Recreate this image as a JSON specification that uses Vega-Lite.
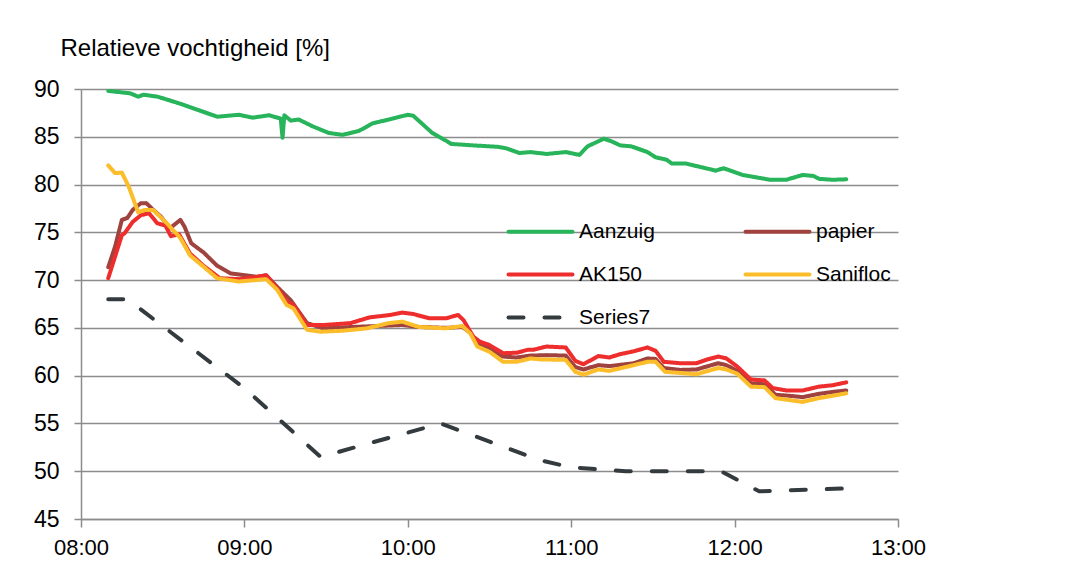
{
  "$schema": "https://vega.github.io/schema/vega-lite/v6.json",
  "autosize": {"type": "none"},
  "padding": {"left": 81, "top": 89, "right": 181, "bottom": 54},
  "width": 817,
  "height": 430,
  "background": "white",
  "config": {
    "view": {"stroke": null},
    "font": "Liberation Sans",
    "axis": {"labelFont": "Liberation Sans", "labelColor": "#000000", "titleFont": "Liberation Sans", "titleColor": "#000000", "titleFontWeight": "normal"},
    "legend": {"labelFont": "Liberation Sans", "labelColor": "#000000"}
  },
  "data": {"values": [
    {"s":"Aanzuig","t":"2020-01-01T08:10:00","v":89.8},
    {"s":"Aanzuig","t":"2020-01-01T08:18:00","v":89.55},
    {"s":"Aanzuig","t":"2020-01-01T08:21:00","v":89.2},
    {"s":"Aanzuig","t":"2020-01-01T08:23:00","v":89.4},
    {"s":"Aanzuig","t":"2020-01-01T08:28:00","v":89.2},
    {"s":"Aanzuig","t":"2020-01-01T08:36:00","v":88.5},
    {"s":"Aanzuig","t":"2020-01-01T08:42:00","v":87.9},
    {"s":"Aanzuig","t":"2020-01-01T08:50:00","v":87.1},
    {"s":"Aanzuig","t":"2020-01-01T08:58:00","v":87.3},
    {"s":"Aanzuig","t":"2020-01-01T09:03:00","v":87.0},
    {"s":"Aanzuig","t":"2020-01-01T09:09:00","v":87.25},
    {"s":"Aanzuig","t":"2020-01-01T09:13:20","v":86.9},
    {"s":"Aanzuig","t":"2020-01-01T09:14:00","v":84.9},
    {"s":"Aanzuig","t":"2020-01-01T09:14:40","v":87.25},
    {"s":"Aanzuig","t":"2020-01-01T09:17:00","v":86.7},
    {"s":"Aanzuig","t":"2020-01-01T09:20:00","v":86.8},
    {"s":"Aanzuig","t":"2020-01-01T09:25:00","v":86.1},
    {"s":"Aanzuig","t":"2020-01-01T09:31:00","v":85.4},
    {"s":"Aanzuig","t":"2020-01-01T09:36:00","v":85.2},
    {"s":"Aanzuig","t":"2020-01-01T09:42:00","v":85.6},
    {"s":"Aanzuig","t":"2020-01-01T09:47:00","v":86.4},
    {"s":"Aanzuig","t":"2020-01-01T09:53:00","v":86.8},
    {"s":"Aanzuig","t":"2020-01-01T10:00:00","v":87.3},
    {"s":"Aanzuig","t":"2020-01-01T10:02:00","v":87.2},
    {"s":"Aanzuig","t":"2020-01-01T10:09:00","v":85.4},
    {"s":"Aanzuig","t":"2020-01-01T10:14:00","v":84.6},
    {"s":"Aanzuig","t":"2020-01-01T10:16:00","v":84.25},
    {"s":"Aanzuig","t":"2020-01-01T10:24:00","v":84.1},
    {"s":"Aanzuig","t":"2020-01-01T10:33:00","v":83.95},
    {"s":"Aanzuig","t":"2020-01-01T10:36:00","v":83.8},
    {"s":"Aanzuig","t":"2020-01-01T10:41:00","v":83.3},
    {"s":"Aanzuig","t":"2020-01-01T10:45:00","v":83.4},
    {"s":"Aanzuig","t":"2020-01-01T10:51:00","v":83.2},
    {"s":"Aanzuig","t":"2020-01-01T10:58:00","v":83.4},
    {"s":"Aanzuig","t":"2020-01-01T11:03:00","v":83.1},
    {"s":"Aanzuig","t":"2020-01-01T11:06:00","v":84.0},
    {"s":"Aanzuig","t":"2020-01-01T11:12:00","v":84.8},
    {"s":"Aanzuig","t":"2020-01-01T11:15:00","v":84.5},
    {"s":"Aanzuig","t":"2020-01-01T11:18:00","v":84.1},
    {"s":"Aanzuig","t":"2020-01-01T11:22:00","v":84.0},
    {"s":"Aanzuig","t":"2020-01-01T11:28:00","v":83.4},
    {"s":"Aanzuig","t":"2020-01-01T11:31:00","v":82.85},
    {"s":"Aanzuig","t":"2020-01-01T11:35:00","v":82.6},
    {"s":"Aanzuig","t":"2020-01-01T11:37:00","v":82.2},
    {"s":"Aanzuig","t":"2020-01-01T11:42:00","v":82.2},
    {"s":"Aanzuig","t":"2020-01-01T11:51:00","v":81.6},
    {"s":"Aanzuig","t":"2020-01-01T11:53:00","v":81.45},
    {"s":"Aanzuig","t":"2020-01-01T11:56:00","v":81.7},
    {"s":"Aanzuig","t":"2020-01-01T12:03:00","v":81.0},
    {"s":"Aanzuig","t":"2020-01-01T12:13:00","v":80.5},
    {"s":"Aanzuig","t":"2020-01-01T12:19:00","v":80.5},
    {"s":"Aanzuig","t":"2020-01-01T12:25:00","v":81.0},
    {"s":"Aanzuig","t":"2020-01-01T12:29:00","v":80.9},
    {"s":"Aanzuig","t":"2020-01-01T12:31:00","v":80.6},
    {"s":"Aanzuig","t":"2020-01-01T12:36:00","v":80.5},
    {"s":"Aanzuig","t":"2020-01-01T12:41:00","v":80.55},

    {"s":"papier","t":"2020-01-01T08:10:00","v":71.35},
    {"s":"papier","t":"2020-01-01T08:12:30","v":73.5},
    {"s":"papier","t":"2020-01-01T08:15:00","v":76.3},
    {"s":"papier","t":"2020-01-01T08:17:00","v":76.5},
    {"s":"papier","t":"2020-01-01T08:19:00","v":77.35},
    {"s":"papier","t":"2020-01-01T08:22:00","v":78.05},
    {"s":"papier","t":"2020-01-01T08:24:00","v":78.05},
    {"s":"papier","t":"2020-01-01T08:26:00","v":77.5},
    {"s":"papier","t":"2020-01-01T08:29:30","v":76.6},
    {"s":"papier","t":"2020-01-01T08:32:30","v":75.4},
    {"s":"papier","t":"2020-01-01T08:36:30","v":76.3},
    {"s":"papier","t":"2020-01-01T08:38:00","v":75.6},
    {"s":"papier","t":"2020-01-01T08:40:30","v":73.85},
    {"s":"papier","t":"2020-01-01T08:45:00","v":72.9},
    {"s":"papier","t":"2020-01-01T08:50:00","v":71.5},
    {"s":"papier","t":"2020-01-01T08:55:00","v":70.7},
    {"s":"papier","t":"2020-01-01T09:04:30","v":70.35},
    {"s":"papier","t":"2020-01-01T09:08:00","v":70.5},
    {"s":"papier","t":"2020-01-01T09:12:00","v":69.3},
    {"s":"papier","t":"2020-01-01T09:17:00","v":67.9},
    {"s":"papier","t":"2020-01-01T09:23:00","v":65.5},
    {"s":"papier","t":"2020-01-01T09:29:00","v":64.95},
    {"s":"papier","t":"2020-01-01T09:40:00","v":65.1},
    {"s":"papier","t":"2020-01-01T09:58:00","v":65.3},
    {"s":"papier","t":"2020-01-01T10:04:00","v":65.1},
    {"s":"papier","t":"2020-01-01T10:14:00","v":65.0},
    {"s":"papier","t":"2020-01-01T10:20:00","v":65.1},
    {"s":"papier","t":"2020-01-01T10:23:00","v":64.5},
    {"s":"papier","t":"2020-01-01T10:26:00","v":63.2},
    {"s":"papier","t":"2020-01-01T10:30:00","v":62.85},
    {"s":"papier","t":"2020-01-01T10:35:00","v":62.0},
    {"s":"papier","t":"2020-01-01T10:40:00","v":61.9},
    {"s":"papier","t":"2020-01-01T10:45:00","v":62.1},
    {"s":"papier","t":"2020-01-01T10:51:00","v":62.15},
    {"s":"papier","t":"2020-01-01T10:58:00","v":62.1},
    {"s":"papier","t":"2020-01-01T11:01:30","v":60.9},
    {"s":"papier","t":"2020-01-01T11:04:30","v":60.65},
    {"s":"papier","t":"2020-01-01T11:10:00","v":61.1},
    {"s":"papier","t":"2020-01-01T11:14:00","v":61.0},
    {"s":"papier","t":"2020-01-01T11:23:00","v":61.3},
    {"s":"papier","t":"2020-01-01T11:28:00","v":61.8},
    {"s":"papier","t":"2020-01-01T11:31:00","v":61.75},
    {"s":"papier","t":"2020-01-01T11:34:00","v":60.8},
    {"s":"papier","t":"2020-01-01T11:40:00","v":60.6},
    {"s":"papier","t":"2020-01-01T11:46:00","v":60.65},
    {"s":"papier","t":"2020-01-01T11:54:00","v":61.3},
    {"s":"papier","t":"2020-01-01T11:57:00","v":61.1},
    {"s":"papier","t":"2020-01-01T12:01:00","v":60.5},
    {"s":"papier","t":"2020-01-01T12:06:00","v":59.2},
    {"s":"papier","t":"2020-01-01T12:11:00","v":59.1},
    {"s":"papier","t":"2020-01-01T12:15:00","v":58.0},
    {"s":"papier","t":"2020-01-01T12:20:00","v":57.9},
    {"s":"papier","t":"2020-01-01T12:25:00","v":57.75},
    {"s":"papier","t":"2020-01-01T12:31:00","v":58.1},
    {"s":"papier","t":"2020-01-01T12:36:00","v":58.3},
    {"s":"papier","t":"2020-01-01T12:41:00","v":58.45},

    {"s":"AK150","t":"2020-01-01T08:10:00","v":70.2},
    {"s":"AK150","t":"2020-01-01T08:12:30","v":72.45},
    {"s":"AK150","t":"2020-01-01T08:15:00","v":74.7},
    {"s":"AK150","t":"2020-01-01T08:16:00","v":74.9},
    {"s":"AK150","t":"2020-01-01T08:19:00","v":76.1},
    {"s":"AK150","t":"2020-01-01T08:22:00","v":76.8},
    {"s":"AK150","t":"2020-01-01T08:25:00","v":77.0},
    {"s":"AK150","t":"2020-01-01T08:28:00","v":75.95},
    {"s":"AK150","t":"2020-01-01T08:31:00","v":75.7},
    {"s":"AK150","t":"2020-01-01T08:33:00","v":74.6},
    {"s":"AK150","t":"2020-01-01T08:36:00","v":74.8},
    {"s":"AK150","t":"2020-01-01T08:40:00","v":72.8},
    {"s":"AK150","t":"2020-01-01T08:45:00","v":71.5},
    {"s":"AK150","t":"2020-01-01T08:51:00","v":70.2},
    {"s":"AK150","t":"2020-01-01T08:58:00","v":70.1},
    {"s":"AK150","t":"2020-01-01T09:04:00","v":70.3},
    {"s":"AK150","t":"2020-01-01T09:08:00","v":70.5},
    {"s":"AK150","t":"2020-01-01T09:12:00","v":69.15},
    {"s":"AK150","t":"2020-01-01T09:15:30","v":67.75},
    {"s":"AK150","t":"2020-01-01T09:18:00","v":67.4},
    {"s":"AK150","t":"2020-01-01T09:23:00","v":65.3},
    {"s":"AK150","t":"2020-01-01T09:29:00","v":65.3},
    {"s":"AK150","t":"2020-01-01T09:39:00","v":65.5},
    {"s":"AK150","t":"2020-01-01T09:46:00","v":66.1},
    {"s":"AK150","t":"2020-01-01T09:53:30","v":66.35},
    {"s":"AK150","t":"2020-01-01T09:58:00","v":66.6},
    {"s":"AK150","t":"2020-01-01T10:02:00","v":66.45},
    {"s":"AK150","t":"2020-01-01T10:08:00","v":66.0},
    {"s":"AK150","t":"2020-01-01T10:14:00","v":66.0},
    {"s":"AK150","t":"2020-01-01T10:18:30","v":66.35},
    {"s":"AK150","t":"2020-01-01T10:20:30","v":65.8},
    {"s":"AK150","t":"2020-01-01T10:24:00","v":64.1},
    {"s":"AK150","t":"2020-01-01T10:26:30","v":63.55},
    {"s":"AK150","t":"2020-01-01T10:30:00","v":63.2},
    {"s":"AK150","t":"2020-01-01T10:35:00","v":62.35},
    {"s":"AK150","t":"2020-01-01T10:40:00","v":62.4},
    {"s":"AK150","t":"2020-01-01T10:44:00","v":62.7},
    {"s":"AK150","t":"2020-01-01T10:46:00","v":62.7},
    {"s":"AK150","t":"2020-01-01T10:51:00","v":63.05},
    {"s":"AK150","t":"2020-01-01T10:58:00","v":62.95},
    {"s":"AK150","t":"2020-01-01T11:01:30","v":61.55},
    {"s":"AK150","t":"2020-01-01T11:04:30","v":61.2},
    {"s":"AK150","t":"2020-01-01T11:10:00","v":62.05},
    {"s":"AK150","t":"2020-01-01T11:14:00","v":61.9},
    {"s":"AK150","t":"2020-01-01T11:18:00","v":62.25},
    {"s":"AK150","t":"2020-01-01T11:23:00","v":62.55},
    {"s":"AK150","t":"2020-01-01T11:28:00","v":62.95},
    {"s":"AK150","t":"2020-01-01T11:31:00","v":62.6},
    {"s":"AK150","t":"2020-01-01T11:34:00","v":61.45},
    {"s":"AK150","t":"2020-01-01T11:40:00","v":61.3},
    {"s":"AK150","t":"2020-01-01T11:46:00","v":61.3},
    {"s":"AK150","t":"2020-01-01T11:50:00","v":61.7},
    {"s":"AK150","t":"2020-01-01T11:54:00","v":62.0},
    {"s":"AK150","t":"2020-01-01T11:57:00","v":61.8},
    {"s":"AK150","t":"2020-01-01T12:01:00","v":60.95},
    {"s":"AK150","t":"2020-01-01T12:06:00","v":59.6},
    {"s":"AK150","t":"2020-01-01T12:11:00","v":59.5},
    {"s":"AK150","t":"2020-01-01T12:14:00","v":58.7},
    {"s":"AK150","t":"2020-01-01T12:19:00","v":58.45},
    {"s":"AK150","t":"2020-01-01T12:25:00","v":58.45},
    {"s":"AK150","t":"2020-01-01T12:31:00","v":58.85},
    {"s":"AK150","t":"2020-01-01T12:36:00","v":59.0},
    {"s":"AK150","t":"2020-01-01T12:41:00","v":59.3},

    {"s":"Sanifloc","t":"2020-01-01T08:10:00","v":82.0},
    {"s":"Sanifloc","t":"2020-01-01T08:12:30","v":81.2},
    {"s":"Sanifloc","t":"2020-01-01T08:15:00","v":81.25},
    {"s":"Sanifloc","t":"2020-01-01T08:17:30","v":79.8},
    {"s":"Sanifloc","t":"2020-01-01T08:21:00","v":77.1},
    {"s":"Sanifloc","t":"2020-01-01T08:23:30","v":77.35},
    {"s":"Sanifloc","t":"2020-01-01T08:26:30","v":77.35},
    {"s":"Sanifloc","t":"2020-01-01T08:31:30","v":75.95},
    {"s":"Sanifloc","t":"2020-01-01T08:36:30","v":74.4},
    {"s":"Sanifloc","t":"2020-01-01T08:40:00","v":72.6},
    {"s":"Sanifloc","t":"2020-01-01T08:45:00","v":71.4},
    {"s":"Sanifloc","t":"2020-01-01T08:50:00","v":70.2},
    {"s":"Sanifloc","t":"2020-01-01T08:58:00","v":69.85},
    {"s":"Sanifloc","t":"2020-01-01T09:08:00","v":70.1},
    {"s":"Sanifloc","t":"2020-01-01T09:12:00","v":69.0},
    {"s":"Sanifloc","t":"2020-01-01T09:15:30","v":67.4},
    {"s":"Sanifloc","t":"2020-01-01T09:18:00","v":67.05},
    {"s":"Sanifloc","t":"2020-01-01T09:23:00","v":64.8},
    {"s":"Sanifloc","t":"2020-01-01T09:28:00","v":64.6},
    {"s":"Sanifloc","t":"2020-01-01T09:36:00","v":64.7},
    {"s":"Sanifloc","t":"2020-01-01T09:45:00","v":64.95},
    {"s":"Sanifloc","t":"2020-01-01T09:53:00","v":65.5},
    {"s":"Sanifloc","t":"2020-01-01T09:58:00","v":65.65},
    {"s":"Sanifloc","t":"2020-01-01T10:04:00","v":65.1},
    {"s":"Sanifloc","t":"2020-01-01T10:14:00","v":64.95},
    {"s":"Sanifloc","t":"2020-01-01T10:20:00","v":65.2},
    {"s":"Sanifloc","t":"2020-01-01T10:23:00","v":64.4},
    {"s":"Sanifloc","t":"2020-01-01T10:25:30","v":63.05},
    {"s":"Sanifloc","t":"2020-01-01T10:30:00","v":62.5},
    {"s":"Sanifloc","t":"2020-01-01T10:35:00","v":61.45},
    {"s":"Sanifloc","t":"2020-01-01T10:40:00","v":61.45},
    {"s":"Sanifloc","t":"2020-01-01T10:45:00","v":61.8},
    {"s":"Sanifloc","t":"2020-01-01T10:49:00","v":61.7},
    {"s":"Sanifloc","t":"2020-01-01T10:58:00","v":61.65},
    {"s":"Sanifloc","t":"2020-01-01T11:01:30","v":60.4},
    {"s":"Sanifloc","t":"2020-01-01T11:04:30","v":60.1},
    {"s":"Sanifloc","t":"2020-01-01T11:10:00","v":60.65},
    {"s":"Sanifloc","t":"2020-01-01T11:14:00","v":60.5},
    {"s":"Sanifloc","t":"2020-01-01T11:23:00","v":61.1},
    {"s":"Sanifloc","t":"2020-01-01T11:28:00","v":61.45},
    {"s":"Sanifloc","t":"2020-01-01T11:31:00","v":61.45},
    {"s":"Sanifloc","t":"2020-01-01T11:34:30","v":60.4},
    {"s":"Sanifloc","t":"2020-01-01T11:46:00","v":60.15},
    {"s":"Sanifloc","t":"2020-01-01T11:54:00","v":60.8},
    {"s":"Sanifloc","t":"2020-01-01T11:57:00","v":60.65},
    {"s":"Sanifloc","t":"2020-01-01T12:01:00","v":60.2},
    {"s":"Sanifloc","t":"2020-01-01T12:06:00","v":58.85},
    {"s":"Sanifloc","t":"2020-01-01T12:11:00","v":58.8},
    {"s":"Sanifloc","t":"2020-01-01T12:15:00","v":57.65},
    {"s":"Sanifloc","t":"2020-01-01T12:25:00","v":57.25},
    {"s":"Sanifloc","t":"2020-01-01T12:31:00","v":57.65},
    {"s":"Sanifloc","t":"2020-01-01T12:41:00","v":58.15},

    {"s":"Series7","t":"2020-01-01T08:10:00","v":68.0},
    {"s":"Series7","t":"2020-01-01T08:17:00","v":68.0},
    {"s":"Series7","t":"2020-01-01T09:00:00","v":58.7},
    {"s":"Series7","t":"2020-01-01T09:28:00","v":51.5},
    {"s":"Series7","t":"2020-01-01T10:12:00","v":55.0},
    {"s":"Series7","t":"2020-01-01T10:48:00","v":51.2},
    {"s":"Series7","t":"2020-01-01T11:00:00","v":50.4},
    {"s":"Series7","t":"2020-01-01T11:20:00","v":50.0},
    {"s":"Series7","t":"2020-01-01T11:55:00","v":50.0},
    {"s":"Series7","t":"2020-01-01T12:09:00","v":47.9},
    {"s":"Series7","t":"2020-01-01T12:41:00","v":48.2}
  ]},
  "mark": {"type": "line", "strokeWidth": 4, "strokeCap": "round", "strokeJoin": "round"},
  "encoding": {
    "x": {
      "field": "t", "type": "temporal",
      "scale": {"domain": [
        {"year": 2020, "month": 1, "date": 1, "hours": 8, "minutes": 0},
        {"year": 2020, "month": 1, "date": 1, "hours": 13, "minutes": 0}
      ]},
      "axis": {
        "title": null, "format": "%H:%M", "grid": false, "domain": true,
        "values": [
          {"year": 2020, "month": 1, "date": 1, "hours": 8},
          {"year": 2020, "month": 1, "date": 1, "hours": 9},
          {"year": 2020, "month": 1, "date": 1, "hours": 10},
          {"year": 2020, "month": 1, "date": 1, "hours": 11},
          {"year": 2020, "month": 1, "date": 1, "hours": 12},
          {"year": 2020, "month": 1, "date": 1, "hours": 13}
        ],
        "domainColor": "#8c8c8c", "domainWidth": 1.5,
        "tickColor": "#8c8c8c", "tickWidth": 1.5, "tickSize": 8,
        "labelFontSize": 22, "labelPadding": 10, "labelFlush": false
      }
    },
    "y": {
      "field": "v", "type": "quantitative",
      "scale": {"domain": [45, 90], "nice": false, "zero": false},
      "axis": {
        "title": "Relatieve vochtigheid [%]",
        "titleAngle": 0, "titleAlign": "left", "titleBaseline": "alphabetic",
        "titleX": -21, "titleY": -34, "titleFontSize": 24,
        "values": [45, 50, 55, 60, 65, 70, 75, 80, 85, 90],
        "grid": true, "gridColor": "#8c8c8c", "gridWidth": 1.5, "domain": true,
        "domainColor": "#8c8c8c", "domainWidth": 1.5,
        "tickColor": "#8c8c8c", "tickWidth": 1.5, "tickSize": 7,
        "labelFontSize": 23, "labelPadding": 15, "labelAlign": "right", "labelBaseline": "middle"
      }
    },
    "color": {
      "field": "s", "type": "nominal",
      "scale": {
        "domain": ["Aanzuig", "papier", "AK150", "Sanifloc", "Series7"],
        "range": ["#28b45a", "#a0433f", "#ee2d2d", "#fbbd2a", "#343b3f"]
      },
      "legend": {
        "title": null, "orient": "none", "legendX": 449, "legendY": 132, "direction": "horizontal",
        "columns": 2, "columnPadding": 82, "rowPadding": 21, "padding": 0,
        "symbolType": "M-4,0H4", "symbolSize": 256, "symbolStrokeWidth": 4,
        "labelFontSize": 21, "labelOffset": 28, "labelLimit": 200,
        "encode": {"symbols": {"update": {"strokeCap": {"value": "round"}}}}
      }
    },
    "strokeDash": {
      "field": "s", "type": "nominal",
      "scale": {
        "domain": ["Aanzuig", "papier", "AK150", "Sanifloc", "Series7"],
        "range": [[1, 0], [1, 0], [1, 0], [1, 0], [15, 21]]
      },
      "legend": {
        "title": null, "orient": "none", "legendX": 449, "legendY": 132, "direction": "horizontal",
        "columns": 2, "columnPadding": 82, "rowPadding": 21, "padding": 0,
        "symbolType": "M-4,0H4", "symbolSize": 256, "symbolStrokeWidth": 4,
        "labelFontSize": 21, "labelOffset": 28, "labelLimit": 200,
        "encode": {"symbols": {"update": {"strokeCap": {"value": "round"}}}}
      }
    }
  }
}
